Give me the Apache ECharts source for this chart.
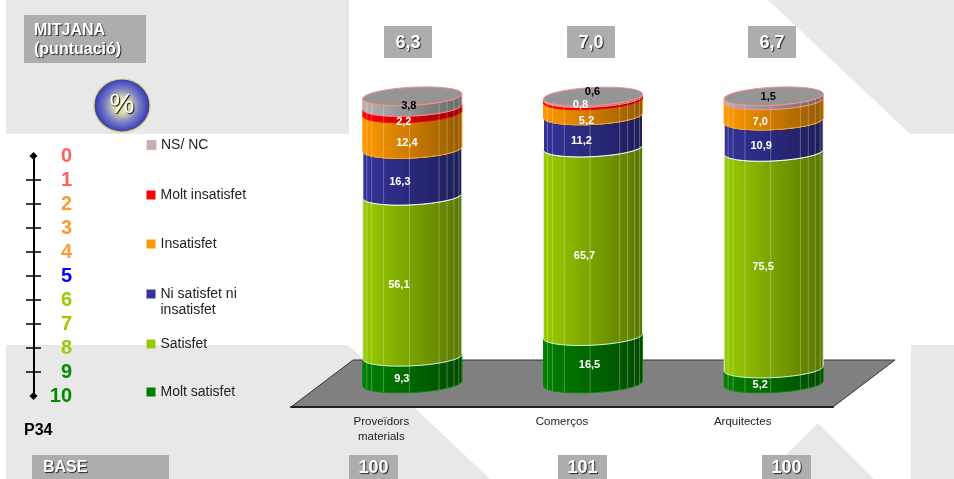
<!DOCTYPE html>
<html>
<head>
<meta charset="utf-8">
<style>html,body{margin:0;padding:0;background:#fff}#chart{width:954px;height:479px}</style>
<script src="https://cdn.jsdelivr.net/npm/echarts@6/dist/echarts.min.js"></script>
</head>
<body>
<div id="chart"></div>
<script>
// Satisfaction shares per group, stacked from the bottom up
const categories = ['Proveïdors\nmaterials', 'Comerços', 'Arquitectes'];
const moltSatisfet = [9.3, 16.5, 5.2];
const satisfet = [56.1, 65.7, 75.5];
const niSatisfet = [16.3, 11.2, 10.9];
const insatisfet = [12.4, 5.2, 7.0];
const moltInsatisfet = [2.2, 0.8, 0];
const nsNc = [3.8, 0.6, 1.5];
const mitjana = ['6,3', '7,0', '6,7'];
const base = ['100', '101', '100'];
const scaleTicks = [0, 1, 2, 3, 4, 5, 6, 7, 8, 9, 10];

const FONT = '"Liberation Sans", Arial, sans-serif';
const scaleColors = ['#ff5f5f', '#ff5f5f', '#ff9933', '#ff9933', '#ff9933', '#0000ff',
  '#99cc00', '#99cc00', '#99cc00', '#008a00', '#008a00'];

const stack = [
  { name: 'Molt satisfet', values: moltSatisfet, color: '#008000', edge: '#008a00' },
  { name: 'Satisfet', values: satisfet, color: '#99cc00', edge: '#d4f5dc' },
  { name: 'Ni satisfet ni insatisfet', values: niSatisfet, color: '#333399', edge: '#ffffff' },
  { name: 'Insatisfet', values: insatisfet, color: '#ff9900', edge: '#ff9900' },
  { name: 'Molt insatisfet', values: moltInsatisfet, color: '#ff0000', edge: '#ff0000' },
  { name: 'NS/ NC', values: nsNc, color: '#b4b4b4', edge: '#ff8a8a' }
];

// Cylinder geometry: offset of the bars from the axis plane and ellipse proportions
const DEPTH_X = 62, DEPTH_Y = 47;
const RX_BAND = 0.274, RY = 9, SHEAR = 0.05;
const FACETS = [0.04, 0.09, 0.21, 0.47, 0.77, 0.85, 0.92, 0.97];

// Hand placement of the value labels relative to the segment middle: [dx, dy] per bar
const labelNudge = [
  [[-10.5, 0], [-3.5, -4], [-13.5, 0]],
  [[-13.5, 0], [-8.5, 5], [-10.5, -2]],
  [[-12.5, 1], [-11.5, 0], [-12.5, 1]],
  [[-5.5, 3], [-6.5, 4], [-13.5, 2]],
  [[-8.5, 3], [-12.5, -3], [0, 0]],
  [[-3.5, -5], [-0.5, -14], [-5.5, -10]]
];

function shade(hex, k) {
  const n = parseInt(hex.slice(1), 16);
  const c = s => Math.round(((n >> s) & 255) * k);
  return `rgb(${c(16)},${c(8)},${c(0)})`;
}

// Point on the tilted ellipse centred at (cx, cy); t runs from left end (PI) to right end (0)
function ellipsePoint(cx, cy, rx, t) {
  const dx = rx * Math.cos(t);
  return [cx + dx, cy + RY * Math.sin(t) - SHEAR * dx];
}

function frontY(cy, rx, frac) {
  const u = 2 * frac - 1;
  return cy + RY * Math.sqrt(1 - u * u) - SHEAR * rx * u;
}

function cylinderItem(entry) {
  return function (params, api) {
    const i = api.value(0), from = api.value(1), to = api.value(2);
    if (to <= from) return { type: 'group', children: [] };
    const p0 = api.coord([i, from]), p1 = api.coord([i, to]);
    const rx = api.size([1, 0])[0] * RX_BAND;
    const cx = p0[0] + DEPTH_X / 2;
    const yBot = p0[1] - DEPTH_Y / 2, yTop = p1[1] - DEPTH_Y / 2;
    const pts = [];
    for (let k = 0; k <= 48; k++) pts.push(ellipsePoint(cx, yBot, rx, Math.PI - (Math.PI * k) / 48));
    for (let k = 48; k >= 0; k--) pts.push(ellipsePoint(cx, yTop, rx, Math.PI - (Math.PI * k) / 48));
    const children = [{
      type: 'polygon',
      shape: { points: pts },
      style: {
        fill: new echarts.graphic.LinearGradient(0, 0, 1, 0, [
          { offset: 0, color: entry.color },
          { offset: 1, color: shade(entry.color, 0.58) }
        ]),
        stroke: entry.edge,
        lineWidth: 1
      }
    }];
    FACETS.forEach(f => {
      const x = cx - rx + 2 * rx * f;
      children.push({
        type: 'line',
        shape: { x1: x, y1: frontY(yTop, rx, f), x2: x, y2: frontY(yBot, rx, f) },
        style: { stroke: 'rgba(255,255,255,0.28)', lineWidth: 1 }
      });
    });
    // The last band closes the cylinder with its lid
    if (entry === stack[stack.length - 1]) {
      const lid = [];
      for (let k = 0; k < 72; k++) lid.push(ellipsePoint(cx, yTop, rx, (2 * Math.PI * k) / 72));
      children.push({
        type: 'polygon',
        shape: { points: lid },
        style: { fill: '#959595', stroke: '#ff8a8a', lineWidth: 1 }
      });
    }
    return { type: 'group', children };
  };
}

function stackedData(entry, s) {
  return categories.map((_, i) => {
    let from = 0;
    for (let k = 0; k < s; k++) from += stack[k].values[i];
    return [i, from, from + entry.values[i]];
  });
}

const barSeries = stack.map((entry, s) => ({
  type: 'custom',
  name: entry.name,
  xAxisIndex: 0,
  yAxisIndex: 0,
  z: 3,
  itemStyle: { color: entry.color },
  data: stackedData(entry, s),
  renderItem: cylinderItem(entry),
  silent: true
}));

const labelRows = [];
stack.forEach((entry, s) => {
  stackedData(entry, s).forEach(d => {
    if (entry.values[d[0]] > 0) labelRows.push([d[0], d[1], d[2], s]);
  });
});

const labelSeries = {
  type: 'custom',
  name: 'valors',
  xAxisIndex: 0,
  yAxisIndex: 0,
  z: 4,
  silent: true,
  data: labelRows,
  renderItem(params, api) {
    const i = api.value(0), s = api.value(3);
    const p = api.coord([i, (api.value(1) + api.value(2)) / 2]);
    const nudge = labelNudge[s][i];
    return {
      type: 'text',
      style: {
        x: p[0] + DEPTH_X / 2 + nudge[0],
        y: p[1] - DEPTH_Y / 2 + RY + nudge[1],
        text: stack[s].values[i].toFixed(1).replace('.', ','),
        fill: s === stack.length - 1 ? '#000000' : '#ffffff',
        font: 'bold 11px ' + FONT,
        align: 'center',
        verticalAlign: 'middle'
      }
    };
  }
};

// Grey floor the cylinders stand on, spanning the whole category axis
const floorSeries = {
  type: 'custom',
  name: 'terra',
  xAxisIndex: 0,
  yAxisIndex: 0,
  z: 1,
  silent: true,
  data: [[0, 0]],
  renderItem(params) {
    const g = params.coordSys;
    const b = g.y + g.height;
    return {
      type: 'polygon',
      shape: {
        points: [[g.x, b], [g.x + DEPTH_X, b - DEPTH_Y], [g.x + g.width + DEPTH_X, b - DEPTH_Y], [g.x + g.width, b]]
      },
      style: { fill: '#808080', stroke: '#333333', lineWidth: 1 }
    };
  }
};

const softBg = '#e8e8e8';
const backdrop = [
  [[6, 0], [349, 0], [349, 134], [6, 134]],
  [[768, 0], [954, 0], [954, 134], [910, 134]],
  [[6, 345], [348, 345], [490, 479], [6, 479]],
  [[818, 423], [874, 479], [762, 479]],
  [[911, 345], [954, 345], [954, 479], [911, 479]]
].map(points => ({ type: 'polygon', z: -1, shape: { points }, style: { fill: softBg } }));

function greyBox(x, y, w, h, text, size, textX, align) {
  return [
    { type: 'rect', z: 1, shape: { x, y, width: w, height: h }, style: { fill: '#adadad' } },
    {
      type: 'text', z: 2, x: textX === undefined ? x + w / 2 : textX, y: y + h / 2 + 1,
      style: {
        text, fill: '#ffffff', font: `bold ${size}px ${FONT}`, lineHeight: 19,
        align: align || 'center', verticalAlign: 'middle',
        textShadowColor: 'rgba(20,20,20,0.9)', textShadowBlur: 1, textShadowOffsetX: 1, textShadowOffsetY: 1
      }
    }
  ];
}

const meanBoxX = [384, 567, 748];
const baseBoxX = [349, 558, 762];
const boxes = [
  ...greyBox(24, 15, 122, 48, 'MITJANA\n(puntuació)', 16, 34, 'left'),
  ...greyBox(32, 455, 137, 24, 'BASE', 16, 43, 'left')
];
mitjana.forEach((t, i) => boxes.push(...greyBox(meanBoxX[i], 26, 48, 32, t, 18)));
base.forEach((t, i) => boxes.push(...greyBox(baseBoxX[i], 455, 49, 24, t, 18)));

const badge = [
  {
    type: 'ellipse', z: 1, shape: { cx: 122, cy: 105.5, rx: 28, ry: 26.5 },
    style: {
      fill: new echarts.graphic.RadialGradient(0.5, 0.5, 0.5, [
        { offset: 0, color: '#f7f2a0' },
        { offset: 0.3, color: '#dcdaa8' },
        { offset: 0.62, color: '#7b7fc6' },
        { offset: 1, color: '#3538b4' }
      ]),
      stroke: '#d8d27a', lineWidth: 1.2
    }
  },
  {
    type: 'text', z: 2, x: 122, y: 105,
    style: {
      text: '%', fill: '#ffffff', font: `28px ${FONT}`, align: 'center', verticalAlign: 'middle',
      textShadowColor: '#111111', textShadowBlur: 1, textShadowOffsetX: 1, textShadowOffsetY: 1
    }
  }
];

const legendCentres = [391, 343, 293, 243, 194, 144];
const legends = stack.map((entry, s) => ({
  left: 146.5,
  top: legendCentres[s] - 6,
  padding: 0,
  orient: 'vertical',
  selectedMode: false,
  icon: 'rect',
  itemWidth: 9,
  itemHeight: 9,
  data: [{
    name: entry.name,
    itemStyle: entry.name === 'NS/ NC' ? { color: '#b4b4b4', borderColor: '#ff9c9c', borderWidth: 1 } : { color: entry.color }
  }],
  formatter: n => (n === 'Ni satisfet ni insatisfet' ? 'Ni satisfet ni' : n),
  textStyle: { fontFamily: FONT, fontSize: 14, color: '#222222' }
}));

const scaleTickLine = { color: '#000000', width: 1.5 };

const option = {
  animation: false,
  backgroundColor: '#ffffff',
  legend: legends,
  grid: [
    { left: 291, width: 542, top: 120, height: 287 },
    { left: 33.5, width: 7.5, top: 156, height: 240 }
  ],
  xAxis: [
    {
      type: 'category', gridIndex: 0, data: categories, z: 5,
      axisLine: { lineStyle: { color: '#222222', width: 2 } },
      axisTick: { length: 5, lineStyle: { color: '#444444' } },
      axisLabel: { fontFamily: FONT, fontSize: 11.5, lineHeight: 15, color: '#222222', margin: 7 }
    },
    { type: 'value', gridIndex: 1, show: false, min: 0, max: 1 }
  ],
  yAxis: [
    { type: 'value', gridIndex: 0, min: 0, max: 100, show: false },
    {
      // 0–10 rating scale: spine, left half of the ticks and the coloured numbers
      type: 'value', gridIndex: 1, min: 0, max: 10, interval: 1, inverse: true, z: 5,
      axisLine: {
        show: true, symbol: ['diamond', 'diamond'], symbolSize: [8, 8],
        lineStyle: { color: '#000000', width: 2 }
      },
      axisTick: { show: true, length: 7.5, customValues: scaleTicks.slice(1, -1), lineStyle: scaleTickLine },
      splitLine: { show: false },
      axisLabel: {
        inside: true, margin: 38.5, align: 'right',
        fontFamily: FONT, fontWeight: 'bold', fontSize: 20,
        color: v => scaleColors[v]
      }
    },
    {
      // Right half of the same ticks
      type: 'value', gridIndex: 1, min: 0, max: 10, interval: 1, inverse: true, z: 5,
      position: 'left',
      axisLine: { show: false },
      axisTick: { show: true, inside: true, length: 7.5, customValues: scaleTicks.slice(1, -1), lineStyle: scaleTickLine },
      splitLine: { show: false },
      axisLabel: { show: false }
    }
  ],
  series: [floorSeries, ...barSeries, labelSeries],
  graphic: [
    ...backdrop,
    ...boxes,
    ...badge,
    { type: 'text', z: 2, x: 24, y: 431, style: { text: 'P34', fill: '#000000', font: `bold 16px ${FONT}`, verticalAlign: 'middle' } },
    { type: 'text', z: 6, x: 160.5, y: 310, style: { text: 'insatisfet', fill: '#222222', font: `14px ${FONT}`, verticalAlign: 'middle' } }
  ]
};

echarts.init(document.getElementById('chart'), null, { renderer: 'canvas' }).setOption(option);
</script>
</body>
</html>
